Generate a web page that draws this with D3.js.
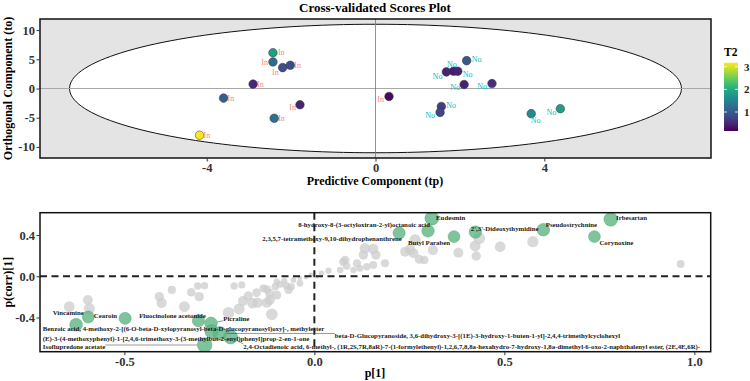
<!DOCTYPE html>
<html>
<head>
<meta charset="utf-8">
<script src="https://cdn.jsdelivr.net/npm/d3@7"></script>
<style>
body { margin: 0; background: #fff; }
text { font-family: "Liberation Serif", "Times New Roman", serif; }
</style>
</head>
<body>
<script>
// ---- scores plot data ----
var scoreGroup = ["In","In","In","In","In","In","In","In","In","In",
                  "No","No","No","No","No","No","No","No","No","No"];
var scoreTp = [-2.43,-2.43,-2.20,-2.02,-2.90,-3.60,-1.79,-2.40,-4.17,0.32,
               2.16,1.68,1.85,1.95,2.10,2.76,1.56,1.53,3.69,4.38];
var scoreTo = [6.13,4.55,3.58,3.98,0.75,-1.64,-2.78,-5.10,-8.00,-1.36,
               4.77,2.84,2.96,2.96,0.68,0.85,-3.07,-4.09,-4.31,-3.46];
var scoreT2 = [1.85,1.2,0.9,0.85,0.5,1.05,0.45,1.3,3.15,0.25,
               1.0,0.45,0.4,0.45,0.45,0.55,0.7,0.8,1.6,1.85];
var tpTicks = [-4, 0, 4];
var toTicks = [-10, -5, 0, 5, 10];
var t2Ticks = [1, 2, 3];
var t2Range = [0.16, 3.18];

// ---- loadings (S-plot) data ----
var otherP = [-0.645,-0.596,-0.592,-0.408,-0.402,-0.375,-0.342,-0.324,-0.307,-0.303,
              -0.289,-0.226,-0.211,-0.191,-0.198,-0.188,-0.174,-0.163,-0.152,-0.149,
              -0.134,-0.125,-0.118,-0.112,-0.103,-0.090,-0.079,-0.074,-0.068,-0.061,
              -0.055,-0.038,-0.022,-0.009,-0.125,-0.099,-0.117,-0.099,-0.038,0.006,
              0.019,0.037,0.068,0.076,0.081,0.103,0.112,0.120,0.129,0.133,
              0.138,0.155,0.155,0.162,0.186,0.085,0.239,0.252,0.261,0.265,
              0.276,0.289,0.312,0.379,0.423,0.434,0.426,0.489,0.575,0.964];
var otherCorr = [-0.295,-0.230,-0.315,-0.198,-0.259,-0.133,-0.295,-0.155,-0.094,-0.198,
                 -0.091,-0.353,-0.094,-0.084,-0.317,-0.240,-0.191,-0.262,-0.159,-0.256,
                 -0.117,-0.256,-0.165,-0.369,-0.101,-0.078,-0.043,-0.091,-0.133,-0.101,
                 -0.036,-0.019,-0.010,0.013,-0.126,-0.182,-0.230,-0.052,-0.068,-0.004,
                 0.029,0.054,0.061,0.139,0.158,0.061,0.126,0.078,0.207,0.272,
                 0.093,0.265,0.110,0.207,0.126,0.100,0.239,0.262,0.223,0.352,
                 0.165,0.158,0.255,0.229,0.294,0.369,0.197,0.287,0.336,0.119];

var markerNames = [
  "Vincamine",
  "Cearoin",
  "Fluocinolone acetonide",
  "Picraline",
  "Benzoic acid, 4-methoxy-2-[(6-O-beta-D-xylopyranosyl-beta-D-glucopyranosyl)oxy]-, methylester",
  "(E)-3-(4-methoxyphenyl)-1-[2,4,6-trimethoxy-3-(3-methylbut-2-enyl)phenyl]prop-2-en-1-one",
  "beta-D-Glucopyranoside, 3,6-dihydroxy-3-[(1E)-3-hydroxy-1-buten-1-yl]-2,4,4-trimethylcyclohexyl",
  "2,4-Octadienoic acid, 6-methyl-, (1R,2S,7R,8aR)-7-(1-formylethenyl)-1,2,6,7,8,8a-hexahydro-7-hydroxy-1,8a-dimethyl-6-oxo-2-naphthalenyl ester, (2E,4E,6R)-",
  "Isoflupredone acetate",
  "2,3,5,7-tetramethoxy-9,10-dihydrophenanthrene",
  "8-hydroxy-8-(3-octyloxiran-2-yl)octanoic acid",
  "Eudesmin",
  "Butyl Paraben",
  "2',3'-Dideoxythymidine",
  "Pseudostrychnine",
  "Irbesartan",
  "Corynoxine"
];
var markerP = [-0.595,-0.498,-0.305,-0.272,-0.627,-0.2705,-0.2487,-0.2205,-0.2887,
               0.223,0.299,0.309,0.3676,0.4237,0.6026,0.780,0.737];
var markerCorr = [-0.395,-0.408,-0.431,-0.457,-0.470,-0.536,-0.555,-0.589,-0.667,
                  0.420,0.440,0.563,0.385,0.429,0.452,0.553,0.385];
var pTicks = [-0.5, 0.0, 0.5, 1.0];
var corrTicks = [-0.4, 0.0, 0.4];

// label placement (pixels, relative to the point)
var scoreNudge = [[5,0,"start"],[-5,0,"end"],[-4,5,"end"],[4,0,"start"],[4,0,"start"],
                  [4,0,"start"],[-4,2,"end"],[4,0,"start"],[4,0,"start"],[-5,2.5,"end"],
                  [5,-1,"start"],[-4,4,"end"],[-1.7,-7.3,"middle"],[5,3,"start"],[-4,3,"end"],
                  [-5,3,"end"],[5,-1,"start"],[-5,3,"end"],[4.5,7,"middle"],[-4,3,"end"]];
var markerNudge = [[-4.5,-4,"end",0],[-8,-2.6,"end",0],[7.4,-4.7,"end",0],[12.3,-5,"start",1],
                   [-33.3,4,"start",0],[-168.8,7.5,"start",0],[115,2.2,"start",1],[12.8,9.7,"start",1],
                   [-161.8,2,"start",1],
                   [2.7,6,"end",0],[2,-6,"end",0],[4.3,-1,"start",0],[-4,6,"end",0],
                   [-4.6,-3.3,"start",0],[2.4,-5,"start",0],[5.3,-1.6,"start",0],[5,5.6,"start",0]];

var W = 750, H = 381;
var svg = d3.select("body").append("svg")
    .attr("width", W)
    .attr("height", H);

// ================= top: cross-validated scores plot =================
var p1 = {left: 40, top: 19, right: 711, bottom: 158};
var x1 = d3.scaleLinear().domain([-7.95, 7.95]).range([p1.left, p1.right]);
var y1 = d3.scaleLinear().domain([-11.9, 11.9]).range([p1.bottom, p1.top]);
var color = d3.scaleSequential(d3.interpolateViridis).domain(t2Range);

svg.append("text")
    .attr("x", 375).attr("y", 12)
    .style("font-size", "13px").style("font-weight", "bold")
    .attr("text-anchor", "middle")
    .text("Cross-validated Scores Plot");

svg.append("clipPath").attr("id", "clip1")
  .append("rect")
    .attr("x", p1.left).attr("y", p1.top)
    .attr("width", p1.right - p1.left).attr("height", p1.bottom - p1.top);

svg.append("rect")
    .attr("x", p1.left).attr("y", p1.top)
    .attr("width", p1.right - p1.left).attr("height", p1.bottom - p1.top)
    .attr("fill", "#e4e4e4");

// Hotelling T2 ellipse
var ellA = 7.25, ellB = 11.0;
var ell = d3.range(0, 361, 2).map(function(a) {
    var t = a * Math.PI / 180;
    return [ellA * Math.cos(t), ellB * Math.sin(t)];
});
svg.append("path")
    .attr("clip-path", "url(#clip1)")
    .attr("d", d3.line().x(function(d) { return x1(d[0]); }).y(function(d) { return y1(d[1]); })(ell) + "Z")
    .attr("fill", "#fff")
    .attr("stroke", "#111")
    .attr("stroke-width", 1);

svg.append("line")
    .attr("x1", p1.left).attr("x2", p1.right)
    .attr("y1", y1(0)).attr("y2", y1(0))
    .attr("stroke", "#a8a8a8").attr("stroke-width", 1.2);
svg.append("line")
    .attr("x1", x1(0)).attr("x2", x1(0))
    .attr("y1", p1.top).attr("y2", p1.bottom)
    .attr("stroke", "#777").attr("stroke-width", 0.8);

var scores = scoreTp.map(function(d, i) {
    return {tp: d, to: scoreTo[i], t2: scoreT2[i], g: scoreGroup[i], n: scoreNudge[i]};
});

svg.append("g").selectAll("circle")
    .data(scores).enter().append("circle")
    .attr("cx", function(d) { return x1(d.tp); })
    .attr("cy", function(d) { return y1(d.to); })
    .attr("r", 4.3)
    .attr("fill", function(d) { return color(d.t2); })
    .attr("stroke", "#333")
    .attr("stroke-width", 0.5);

svg.append("g").selectAll("text")
    .data(scores).enter().append("text")
    .attr("x", function(d) { return x1(d.tp) + d.n[0]; })
    .attr("y", function(d) { return y1(d.to) + d.n[1]; })
    .attr("dy", "0.35em")
    .attr("text-anchor", function(d) { return d.n[2]; })
    .style("font-size", "8px")
    .attr("fill", function(d) { return d.g == "In" ? "#f8766d" : "#00bfc4"; })
    .attr("opacity", function(d) { return d.g == "In" ? 0.85 : 1; })
    .text(function(d) { return d.g; });

svg.append("rect")
    .attr("x", p1.left).attr("y", p1.top)
    .attr("width", p1.right - p1.left).attr("height", p1.bottom - p1.top)
    .attr("fill", "none").attr("stroke", "#111").attr("stroke-width", 1.5);

function styleAxis(g) {
    g.select(".domain").remove();
    g.selectAll(".tick line").attr("stroke", "#333");
    g.selectAll(".tick text")
        .style("font-family", "'Liberation Serif', serif")
        .style("font-size", "12.5px")
        .style("font-weight", "bold")
        .attr("fill", "#333");
}

svg.append("g")
    .attr("transform", "translate(0," + p1.bottom + ")")
    .call(d3.axisBottom(x1).tickValues(tpTicks).tickSize(3.5).tickPadding(2)
        .tickFormat(function(d) { return String(d); }))
    .call(styleAxis);
svg.append("g")
    .attr("transform", "translate(" + p1.left + ",0)")
    .call(d3.axisLeft(y1).tickValues(toTicks).tickSize(3.5).tickPadding(1.5)
        .tickFormat(function(d) { return String(d); }))
    .call(styleAxis);

svg.append("text")
    .attr("x", 375).attr("y", 185)
    .attr("text-anchor", "middle")
    .style("font-size", "12px").style("font-weight", "bold")
    .text("Predictive Component (tp)");
svg.append("text")
    .attr("transform", "translate(12," + ((p1.top + p1.bottom) / 2) + ") rotate(-90)")
    .attr("text-anchor", "middle")
    .style("font-size", "12px").style("font-weight", "bold")
    .text("Orthogonal Component (to)");

// T2 colour bar
var bar = {x: 724, y: 62.7, w: 14, h: 68.3};
var grad = svg.append("defs").append("linearGradient")
    .attr("id", "t2grad")
    .attr("x1", "0").attr("y1", "1").attr("x2", "0").attr("y2", "0");
d3.range(0, 1.0001, 0.1).forEach(function(f) {
    grad.append("stop")
        .attr("offset", f)
        .attr("stop-color", d3.interpolateViridis(f));
});
var yBar = d3.scaleLinear().domain(t2Range).range([bar.y + bar.h, bar.y]);
svg.append("rect")
    .attr("x", bar.x).attr("y", bar.y)
    .attr("width", bar.w).attr("height", bar.h)
    .attr("fill", "url(#t2grad)");
svg.append("g").selectAll("line")
    .data(t2Ticks).enter().append("line")
    .attr("x1", bar.x).attr("x2", bar.x + 3)
    .attr("y1", yBar).attr("y2", yBar)
    .attr("stroke", "#fff").attr("stroke-width", 0.8);
svg.append("g").selectAll("line")
    .data(t2Ticks).enter().append("line")
    .attr("x1", bar.x + bar.w - 3).attr("x2", bar.x + bar.w)
    .attr("y1", yBar).attr("y2", yBar)
    .attr("stroke", "#fff").attr("stroke-width", 0.8);
svg.append("g").selectAll("text")
    .data(t2Ticks).enter().append("text")
    .attr("x", bar.x + bar.w + 6)
    .attr("y", yBar)
    .attr("dy", "0.35em")
    .style("font-size", "11px").style("font-weight", "bold")
    .attr("fill", "#222")
    .text(function(d) { return d; });
svg.append("text")
    .attr("x", bar.x).attr("y", 56)
    .style("font-size", "11.5px").style("font-weight", "bold")
    .text("T2");

// ================= bottom: S-plot =================
var p2 = {left: 40, top: 212.7, right: 710.7, bottom: 351.7};
var x2 = d3.scaleLinear().domain([-0.722, 1.043]).range([p2.left, p2.right]);
var y2 = d3.scaleLinear().domain([-0.732, 0.617]).range([p2.bottom, p2.top]);
var size = d3.scaleSqrt().domain([0, 0.7]).range([1.5, 7.5]);

svg.append("clipPath").attr("id", "clip2")
  .append("rect")
    .attr("x", p2.left).attr("y", p2.top)
    .attr("width", p2.right - p2.left).attr("height", p2.bottom - p2.top);

var plot2 = svg.append("g").attr("clip-path", "url(#clip2)");

var others = otherP.map(function(d, i) { return {p: d, c: otherCorr[i]}; });
var markers = markerP.map(function(d, i) {
    return {p: d, c: markerCorr[i], name: markerNames[i], n: markerNudge[i]};
});

plot2.append("g").selectAll("circle")
    .data(others).enter().append("circle")
    .attr("cx", function(d) { return x2(d.p); })
    .attr("cy", function(d) { return y2(d.c); })
    .attr("r", function(d) { return size(Math.abs(d.c)); })
    .attr("fill", "#cccccc")
    .attr("fill-opacity", 0.75);

plot2.append("g").selectAll("circle")
    .data(markers).enter().append("circle")
    .attr("cx", function(d) { return x2(d.p); })
    .attr("cy", function(d) { return y2(d.c); })
    .attr("r", function(d) { return size(Math.abs(d.c)); })
    .attr("fill", "#5db585")
    .attr("fill-opacity", 0.8)
    .attr("stroke", "#4a9c70")
    .attr("stroke-width", 0.4);

plot2.append("line")
    .attr("x1", p2.left).attr("x2", p2.right)
    .attr("y1", y2(0)).attr("y2", y2(0))
    .attr("stroke", "#222").attr("stroke-width", 2)
    .attr("stroke-dasharray", "7,4.5");
plot2.append("line")
    .attr("x1", x2(0)).attr("x2", x2(0))
    .attr("y1", p2.top).attr("y2", p2.bottom)
    .attr("stroke", "#222").attr("stroke-width", 2)
    .attr("stroke-dasharray", "7,4.5");

var segG = plot2.append("g");
var labG = plot2.append("g");

labG.selectAll("text")
    .data(markers).enter().append("text")
    .attr("x", function(d) { return x2(d.p) + d.n[0]; })
    .attr("y", function(d) { return y2(d.c) + d.n[1]; })
    .attr("dy", "0.35em")
    .attr("text-anchor", function(d) { return d.n[2]; })
    .style("font-size", "6.8px").style("font-weight", "bold")
    .attr("fill", "#1a1a1a")
    .text(function(d) { return d.name; })
    .each(function(d) {
        if (!d.n[3]) return;
        var b = this.getBBox();
        var px = x2(d.p), py = y2(d.c);
        var tx = Math.max(b.x, Math.min(px, b.x + b.width));
        var ty = Math.max(b.y + 1, Math.min(py, b.y + b.height - 1));
        var dx = tx - px, dy = ty - py, len = Math.sqrt(dx * dx + dy * dy);
        var r = size(Math.abs(d.c));
        if (len <= r) return;
        segG.append("line")
            .attr("x1", px + dx / len * r).attr("y1", py + dy / len * r)
            .attr("x2", tx).attr("y2", ty)
            .attr("stroke", "#333").attr("stroke-width", 0.5);
    });

svg.append("rect")
    .attr("x", p2.left).attr("y", p2.top)
    .attr("width", p2.right - p2.left).attr("height", p2.bottom - p2.top)
    .attr("fill", "none").attr("stroke", "#111").attr("stroke-width", 1.5);

svg.append("g")
    .attr("transform", "translate(0," + p2.bottom + ")")
    .call(d3.axisBottom(x2).tickValues(pTicks).tickSize(3.5).tickPadding(2)
        .tickFormat(function(d) { return d.toFixed(1); }))
    .call(styleAxis);
svg.append("g")
    .attr("transform", "translate(" + p2.left + ",0)")
    .call(d3.axisLeft(y2).tickValues(corrTicks).tickSize(3.5).tickPadding(1.5)
        .tickFormat(function(d) { return d.toFixed(1); }))
    .call(styleAxis);

svg.append("text")
    .attr("x", 375).attr("y", 377)
    .attr("text-anchor", "middle")
    .style("font-size", "12px").style("font-weight", "bold")
    .text("p[1]");
svg.append("text")
    .attr("transform", "translate(12," + ((p2.top + p2.bottom) / 2) + ") rotate(-90)")
    .attr("text-anchor", "middle")
    .style("font-size", "12px").style("font-weight", "bold")
    .text("p(corr)[1]");
</script>
</body>
</html>
